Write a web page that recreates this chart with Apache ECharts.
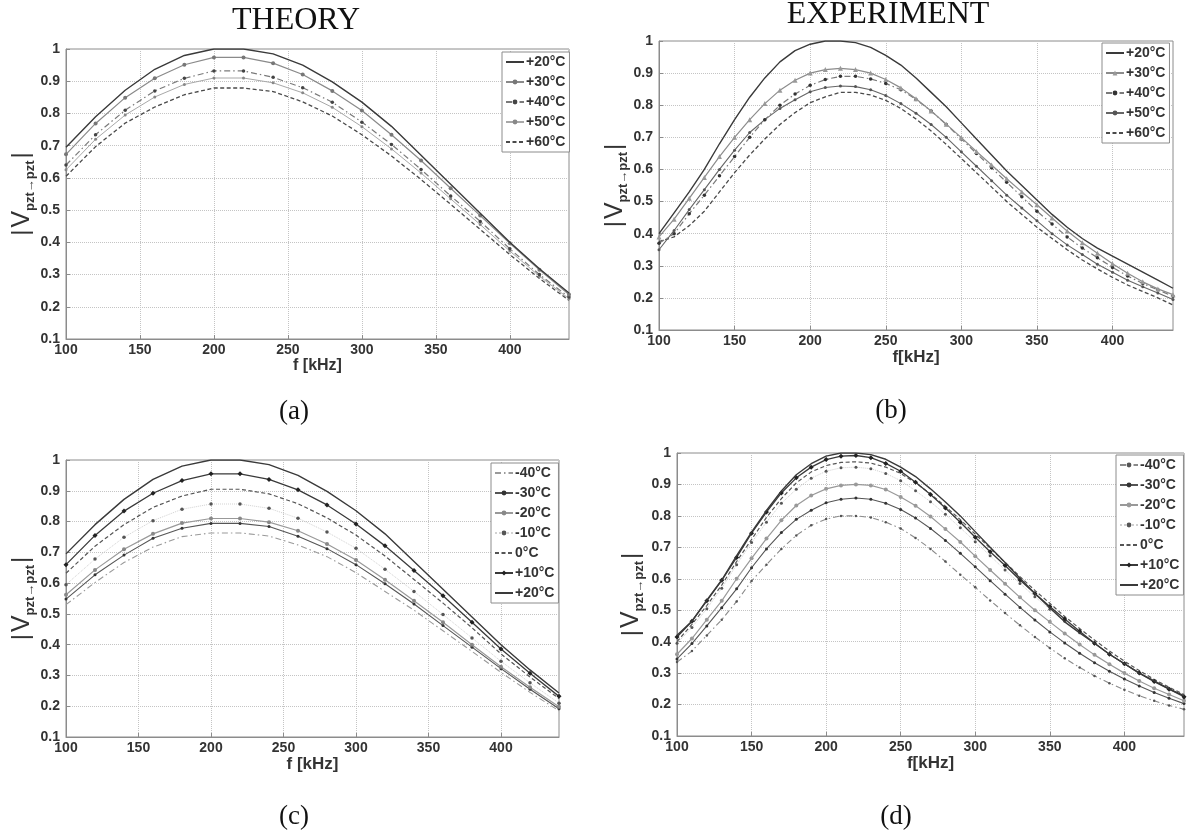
<!DOCTYPE html>
<html><head><meta charset="utf-8">
<script src="https://cdn.jsdelivr.net/npm/echarts@6/dist/echarts.min.js"></script>
<style>html,body{margin:0;padding:0;background:#fff}#c{width:1188px;height:831px}</style>
</head><body><div id="c"></div>
<script>
// ---------------- data ----------------
const freqTheory = [100,120,140,160,180,200,220,240,260,280,300,320,340,360,380,400,420,440];
const freqExp = [100,110,120,130,140,150,160,170,180,190,200,210,220,230,240,250,260,270,280,290,300,310,320,330,340,350,360,370,380,390,400,410,420,430,440];
const xTicks = [100,150,200,250,300,350,400];
const yTicks = [0.1,0.2,0.3,0.4,0.5,0.6,0.7,0.8,0.9,1];

// (a) theory, high temperatures
const a20 = [0.695,0.79,0.872,0.937,0.98,1.0,1.0,0.985,0.95,0.898,0.835,0.76,0.67,0.58,0.49,0.40,0.318,0.243];
const a30 = [0.673,0.769,0.849,0.909,0.951,0.974,0.974,0.956,0.921,0.870,0.809,0.734,0.654,0.568,0.483,0.397,0.315,0.238];
const a40 = [0.640,0.734,0.810,0.870,0.909,0.932,0.932,0.912,0.880,0.835,0.773,0.704,0.626,0.544,0.465,0.380,0.300,0.230];
const a50 = [0.625,0.720,0.795,0.851,0.890,0.910,0.910,0.895,0.864,0.819,0.759,0.690,0.615,0.535,0.455,0.373,0.295,0.225];
const a60 = [0.605,0.697,0.770,0.820,0.858,0.879,0.879,0.868,0.836,0.792,0.734,0.668,0.595,0.518,0.440,0.362,0.288,0.220];

// (b) experiment, high temperatures
const b20 = [0.40,0.465,0.53,0.60,0.68,0.755,0.825,0.885,0.935,0.97,0.99,1.0,1.0,0.995,0.98,0.955,0.925,0.885,0.84,0.795,0.745,0.695,0.645,0.595,0.55,0.505,0.46,0.42,0.385,0.355,0.33,0.305,0.28,0.255,0.23];
const b30 = [0.39,0.445,0.51,0.575,0.64,0.70,0.755,0.805,0.847,0.878,0.90,0.911,0.915,0.911,0.90,0.88,0.854,0.82,0.782,0.741,0.699,0.656,0.614,0.571,0.53,0.49,0.449,0.408,0.372,0.339,0.306,0.277,0.25,0.228,0.21];
const b40 = [0.37,0.40,0.462,0.52,0.58,0.64,0.70,0.755,0.80,0.835,0.862,0.88,0.89,0.89,0.882,0.868,0.848,0.818,0.782,0.74,0.695,0.65,0.605,0.56,0.515,0.47,0.43,0.39,0.355,0.325,0.295,0.268,0.245,0.225,0.205];
const b50 = [0.35,0.41,0.475,0.537,0.60,0.66,0.715,0.755,0.79,0.817,0.842,0.855,0.86,0.858,0.848,0.83,0.805,0.775,0.74,0.70,0.655,0.61,0.565,0.52,0.48,0.44,0.40,0.365,0.335,0.305,0.28,0.255,0.235,0.215,0.195];
const b60 = [0.375,0.39,0.425,0.47,0.53,0.59,0.645,0.695,0.74,0.777,0.808,0.826,0.84,0.84,0.832,0.815,0.79,0.757,0.72,0.678,0.634,0.59,0.545,0.50,0.46,0.42,0.385,0.35,0.318,0.29,0.264,0.24,0.22,0.20,0.178];

// (c) theory, low temperatures
const cM40 = [0.53,0.602,0.667,0.717,0.751,0.763,0.763,0.753,0.724,0.686,0.634,0.573,0.512,0.445,0.378,0.31,0.245,0.185];
const cM30 = [0.548,0.627,0.691,0.746,0.778,0.794,0.794,0.784,0.752,0.712,0.66,0.598,0.532,0.462,0.392,0.322,0.255,0.192];
const cM20 = [0.562,0.643,0.71,0.76,0.795,0.81,0.81,0.798,0.77,0.727,0.675,0.611,0.543,0.473,0.4,0.328,0.262,0.198];
const cM10 = [0.595,0.678,0.749,0.803,0.84,0.857,0.857,0.843,0.811,0.766,0.713,0.645,0.573,0.498,0.422,0.346,0.276,0.21];
const c0   = [0.632,0.72,0.79,0.846,0.883,0.905,0.905,0.89,0.858,0.812,0.756,0.688,0.612,0.535,0.455,0.37,0.295,0.225];
const cP10 = [0.66,0.755,0.834,0.892,0.933,0.955,0.955,0.937,0.903,0.854,0.792,0.721,0.641,0.559,0.473,0.386,0.307,0.232];
const cP20 = [0.695,0.79,0.872,0.937,0.98,1.0,1.0,0.985,0.95,0.898,0.835,0.76,0.67,0.58,0.49,0.40,0.318,0.243];

// (d) experiment, low temperatures
const dM40 = [0.335,0.37,0.42,0.47,0.528,0.593,0.645,0.695,0.738,0.77,0.79,0.80,0.80,0.795,0.78,0.76,0.73,0.695,0.655,0.613,0.573,0.531,0.491,0.452,0.415,0.38,0.347,0.318,0.291,0.268,0.247,0.228,0.212,0.197,0.185];
const dM30 = [0.345,0.394,0.45,0.508,0.568,0.635,0.695,0.747,0.789,0.818,0.842,0.853,0.857,0.853,0.84,0.82,0.793,0.76,0.722,0.681,0.638,0.594,0.551,0.509,0.469,0.431,0.396,0.363,0.333,0.306,0.281,0.259,0.238,0.22,0.203];
const dM20 = [0.36,0.41,0.47,0.53,0.60,0.665,0.728,0.786,0.833,0.865,0.886,0.897,0.90,0.897,0.884,0.86,0.832,0.798,0.758,0.717,0.672,0.628,0.584,0.541,0.50,0.463,0.426,0.391,0.358,0.328,0.30,0.275,0.252,0.232,0.212];
const dM10 = [0.395,0.445,0.505,0.57,0.645,0.715,0.78,0.84,0.885,0.92,0.942,0.953,0.955,0.95,0.935,0.912,0.88,0.845,0.805,0.762,0.718,0.673,0.628,0.585,0.543,0.503,0.465,0.428,0.393,0.36,0.33,0.302,0.276,0.25,0.222];
const d0   = [0.40,0.455,0.515,0.58,0.655,0.725,0.795,0.855,0.905,0.94,0.96,0.97,0.972,0.968,0.955,0.935,0.905,0.87,0.83,0.788,0.742,0.697,0.652,0.607,0.563,0.522,0.48,0.442,0.405,0.37,0.338,0.308,0.28,0.255,0.232];
const dP10 = [0.415,0.465,0.53,0.595,0.668,0.745,0.812,0.873,0.921,0.955,0.979,0.99,0.992,0.985,0.967,0.942,0.907,0.868,0.825,0.78,0.732,0.686,0.642,0.596,0.553,0.512,0.472,0.433,0.395,0.36,0.33,0.30,0.273,0.249,0.225];
const dP20 = [0.42,0.465,0.532,0.596,0.674,0.748,0.817,0.879,0.931,0.966,0.99,1.0,1.0,0.995,0.98,0.955,0.925,0.886,0.844,0.80,0.75,0.70,0.652,0.602,0.553,0.508,0.463,0.428,0.395,0.36,0.33,0.30,0.275,0.25,0.228];

const highLabels = ['+20°C','+30°C','+40°C','+50°C','+60°C'];
const lowLabels = ['-40°C','-30°C','-20°C','-10°C','0°C','+10°C','+20°C'];
const panelTitles = ['THEORY','EXPERIMENT'];
const captions = ['(a)','(b)','(c)','(d)'];
const xNames = ['f [kHz]','f[kHz]','f [kHz]','f[kHz]'];

// ---------------- chart ----------------
const SANS = '"Liberation Sans", Arial, sans-serif';
const SERIF = '"Liberation Serif", "DejaVu Serif", serif';
const AX = '#8c8c8c';
const TXT = '#333';

const grids = [
  {left:66, top:49, width:503, height:290},
  {left:659, top:41, width:514, height:289},
  {left:66, top:460, width:493, height:277},
  {left:677, top:453, width:507, height:283}
];
const xNameSize = [16,17,17,17];
const yNameGap = [28,29,28,31];

function xAx(i){
  return {gridIndex:i, type:'value', min:xTicks[0], max:440, interval:xTicks[1]-xTicks[0],
    name:xNames[i], nameLocation:'middle', nameGap:19,
    nameTextStyle:{fontFamily:SANS, fontSize:xNameSize[i], fontWeight:'bold', color:TXT},
    axisLine:{show:true, lineStyle:{color:AX}},
    axisTick:{show:true, inside:true, length:4, lineStyle:{color:AX}},
    axisLabel:{showMaxLabel:false, fontFamily:SANS, fontSize:14, fontWeight:'bold', color:TXT, margin:4},
    splitLine:{show:true, lineStyle:{type:'dotted', color:'#c4c4c4', width:1}}};
}
function yAx(i){
  return {gridIndex:i, type:'value', min:yTicks[0], max:yTicks[yTicks.length-1], interval:0.1,
    name:'{d||}{v|V}{s|pzt→pzt}{d||}', nameLocation:'middle', nameGap:yNameGap[i], nameRotate:90,
    nameTextStyle:{rich:{
      d:{fontFamily:SANS, fontSize:24, color:TXT, verticalAlign:'middle', lineHeight:30, padding:[0,2,0,2]},
      v:{fontFamily:SANS, fontSize:25, color:TXT, verticalAlign:'middle', lineHeight:30},
      s:{fontFamily:SANS, fontSize:13, fontWeight:'bold', color:TXT, verticalAlign:'bottom', lineHeight:30}
    }},
    axisLine:{show:true, lineStyle:{color:AX}},
    axisTick:{show:true, inside:true, length:4, lineStyle:{color:AX}},
    axisLabel:{fontFamily:SANS, fontSize:14, fontWeight:'bold', color:TXT, margin:6,
      formatter:v => String(+v.toFixed(1))},
    splitLine:{show:true, lineStyle:{type:'dotted', color:'#c4c4c4', width:1}}};
}

const noMarker = new Set();
function S(key, gi, xs, ys, o){
  if (!o.symbol) noMarker.add(key);
  return {name:key, type:'line', xAxisIndex:gi, yAxisIndex:gi,
    data:xs.map((x,k)=>[x, ys[k]]),
    symbol:o.symbol || 'none', symbolSize:o.size || 4, showSymbol:!!o.symbol,
    lineStyle:{color:o.color, width:o.width || 1.2, type:o.type || 'solid'},
    itemStyle:{color:o.mcolor || o.color},
    z:o.z || 2, silent:true, animation:false};
}
const DASHDOT = [6,3,1.5,3];

const series = [
  // (a)
  S('a|'+highLabels[0],0,freqTheory,a20,{color:'#3a3a3a',width:1.4,z:6}),
  S('a|'+highLabels[1],0,freqTheory,a30,{color:'#8a8a8a',symbol:'circle',size:4,mcolor:'#777',z:5}),
  S('a|'+highLabels[2],0,freqTheory,a40,{color:'#7a7a7a',type:DASHDOT,symbol:'circle',size:3.5,mcolor:'#444',z:4}),
  S('a|'+highLabels[3],0,freqTheory,a50,{color:'#a8a8a8',width:1,symbol:'circle',size:3,mcolor:'#888',z:3}),
  S('a|'+highLabels[4],0,freqTheory,a60,{color:'#4a4a4a',type:[4,2.5],width:1.3,z:2}),
  // (b)
  S('b|'+highLabels[0],1,freqExp,b20,{color:'#3a3a3a',width:1.4,z:6}),
  S('b|'+highLabels[1],1,freqExp,b30,{color:'#8c8c8c',symbol:'triangle',size:5,mcolor:'#999',z:5}),
  S('b|'+highLabels[2],1,freqExp,b40,{color:'#7a7a7a',type:DASHDOT,symbol:'circle',size:3.5,mcolor:'#333',z:4}),
  S('b|'+highLabels[3],1,freqExp,b50,{color:'#666',width:1.1,symbol:'circle',size:3,mcolor:'#555',z:3}),
  S('b|'+highLabels[4],1,freqExp,b60,{color:'#4a4a4a',type:[4,2.5],width:1.3,z:2}),
  // (c)
  S('c|'+lowLabels[0],2,freqTheory,cM40,{color:'#9a9a9a',type:DASHDOT,width:1.1,z:2}),
  S('c|'+lowLabels[1],2,freqTheory,cM30,{color:'#555',width:1.1,symbol:'circle',size:3,mcolor:'#333',z:3}),
  S('c|'+lowLabels[2],2,freqTheory,cM20,{color:'#999',width:1.2,symbol:'circle',size:4,mcolor:'#888',z:3}),
  S('c|'+lowLabels[3],2,freqTheory,cM10,{color:'#d2d2d2',type:'dotted',width:1,symbol:'circle',size:3.5,mcolor:'#555',z:3}),
  S('c|'+lowLabels[4],2,freqTheory,c0,{color:'#555',type:[4,2.5],width:1.2,z:4}),
  S('c|'+lowLabels[5],2,freqTheory,cP10,{color:'#3a3a3a',width:1.3,symbol:'diamond',size:5,mcolor:'#222',z:5}),
  S('c|'+lowLabels[6],2,freqTheory,cP20,{color:'#3a3a3a',width:1.4,z:6}),
  // (d)
  S('d|'+lowLabels[0],3,freqExp,dM40,{color:'#8a8a8a',type:DASHDOT,width:1.1,symbol:'circle',size:2.5,mcolor:'#555',z:2}),
  S('d|'+lowLabels[1],3,freqExp,dM30,{color:'#555',width:1.1,symbol:'circle',size:3,mcolor:'#333',z:3}),
  S('d|'+lowLabels[2],3,freqExp,dM20,{color:'#999',width:1.2,symbol:'circle',size:4,mcolor:'#999',z:3}),
  S('d|'+lowLabels[3],3,freqExp,dM10,{color:'#d0d0d0',type:'dotted',width:1,symbol:'circle',size:3,mcolor:'#555',z:3}),
  S('d|'+lowLabels[4],3,freqExp,d0,{color:'#555',type:[4,2.5],width:1.2,z:4}),
  S('d|'+lowLabels[5],3,freqExp,dP10,{color:'#3a3a3a',width:1.3,symbol:'diamond',size:5,mcolor:'#222',z:5}),
  S('d|'+lowLabels[6],3,freqExp,dP20,{color:'#3a3a3a',width:1.4,z:6})
];

function legend(prefix, labels, left, top){
  return {data:labels.map(l => {
      const n = prefix+'|'+l;
      return noMarker.has(n) ? {name:n, itemStyle:{opacity:0}} : {name:n};
    }),
    orient:'vertical', left, top,
    padding:[3,4,3,3], itemGap:6, itemWidth:18, itemHeight:6,
    backgroundColor:'#fff', borderColor:AX, borderWidth:1, borderRadius:0,
    selectedMode:false, formatter:n => n.slice(2),
    textStyle:{fontFamily:SANS, fontSize:14, fontWeight:'bold', color:TXT, padding:[0,0,0,-3]}};
}

function txt(t, x, y, size){
  return {type:'text', x, y, silent:true,
    style:{text:t, fontFamily:SERIF, fontSize:size, fill:'#111', align:'center', verticalAlign:'middle'}};
}

const option = {
  backgroundColor:'#fff',
  animation:false,
  grid:grids.map(g => Object.assign({show:true, borderColor:AX, borderWidth:1, backgroundColor:'#fff'}, g)),
  xAxis:[0,1,2,3].map(xAx),
  yAxis:[0,1,2,3].map(yAx),
  legend:[
    legend('a', highLabels, 502, 52),
    legend('b', highLabels, 1102, 43),
    legend('c', lowLabels, 491, 463),
    legend('d', lowLabels, 1116, 455)
  ],
  series,
  graphic:[
    txt(panelTitles[0], 296, 21, 32),
    txt(panelTitles[1], 888, 15, 32),
    txt(captions[0], 294, 412, 27),
    txt(captions[1], 891, 411, 27),
    txt(captions[2], 294, 817, 27),
    txt(captions[3], 896, 817, 27)
  ]
};
const chart = echarts.init(document.getElementById('c'));
chart.setOption(option);
</script></body></html>
